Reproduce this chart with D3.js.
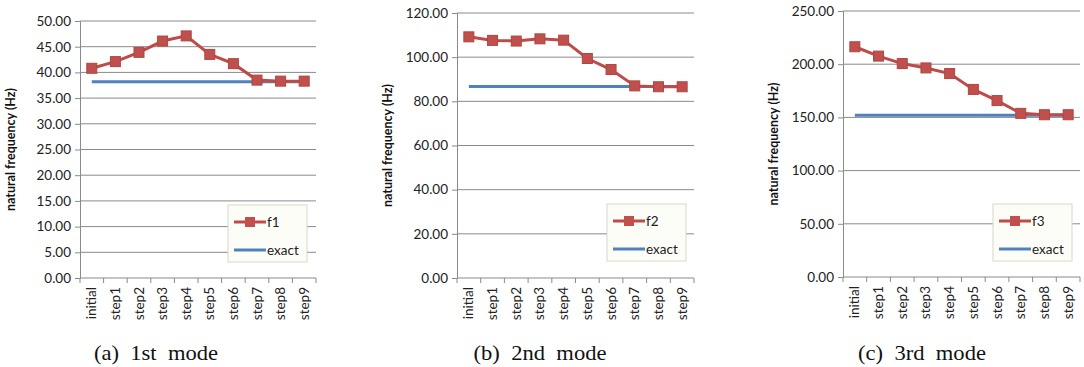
<!DOCTYPE html>
<html lang="en">
<head>
<meta charset="UTF-8">
<title>natural frequency modes</title>
<script src="https://cdn.jsdelivr.net/npm/d3@7"></script>
<style>
body { margin: 0; background: #fff; }
svg text { font-family: Lato, "Open Sans", sans-serif; }
.caption { font-family: "Liberation Serif", "Times New Roman", serif; }
</style>
</head>
<body>
<script>
// data
var categories = ["initial", "step1", "step2", "step3", "step4", "step5", "step6", "step7", "step8", "step9"];

var f1Values = [40.8, 42.1, 43.9, 46.1, 47.1, 43.5, 41.7, 38.5, 38.3, 38.3];
var exact1   = [38.2, 38.2, 38.2, 38.2, 38.2, 38.2, 38.2, 38.2, 38.2, 38.2];
var yTicks1  = [0, 5, 10, 15, 20, 25, 30, 35, 40, 45, 50];

var f2Values = [109.2, 107.6, 107.3, 108.3, 107.7, 99.4, 94.4, 87.0, 86.6, 86.6];
var exact2   = [86.7, 86.7, 86.7, 86.7, 86.7, 86.7, 86.7, 86.7, 86.7, 86.7];
var yTicks2  = [0, 20, 40, 60, 80, 100, 120];

var f3Values = [216.4, 207.6, 200.6, 196.5, 191.2, 176.3, 165.8, 153.8, 152.5, 152.5];
var exact3   = [152.0, 152.0, 152.0, 152.0, 152.0, 152.0, 152.0, 152.0, 152.0, 152.0];
var yTicks3  = [0, 50, 100, 150, 200, 250];

var red = "#C0504D", blue = "#4F81BD";

var svg = d3.select("body").append("svg")
    .attr("width", 1084)
    .attr("height", 367);

var panels = [
    {values: f1Values, exact: exact1, ticks: yTicks1, name: "f1", caption: "(a)  1st  mode",
     left: 80, right: 316, top: 21, bottom: 278, titleX: 11, legend: [228, 205], capX: 156},
    {values: f2Values, exact: exact2, ticks: yTicks2, name: "f2", caption: "(b)  2nd  mode",
     left: 457, right: 694, top: 13, bottom: 278, titleX: 388, legend: [607, 204], capX: 540},
    {values: f3Values, exact: exact3, ticks: yTicks3, name: "f3", caption: "(c)  3rd  mode",
     left: 843, right: 1080, top: 11, bottom: 277, titleX: 774, legend: [993, 204], capX: 922}
];

panels.forEach(drawPanel);

function drawPanel(p)
{
    var g = svg.append("g");

    var x = d3.scaleBand().domain(categories).range([p.left, p.right]);
    var y = d3.scaleLinear().domain([0, d3.max(p.ticks)]).range([p.bottom, p.top]);

    // horizontal gridlines
    g.selectAll("line.grid")
        .data(p.ticks.slice(1)).enter().append("line")
        .attr("x1", p.left).attr("x2", p.right)
        .attr("y1", function(d){ return y(d); })
        .attr("y2", function(d){ return y(d); })
        .attr("stroke", "#8a8a8a")
        .attr("stroke-width", 1);

    // y axis
    var yAxis = g.append("g")
        .attr("transform", "translate(" + p.left + ",0)")
        .call(d3.axisLeft(y).tickValues(p.ticks).tickSize(5).tickFormat(d3.format(".2f")));
    yAxis.select(".domain").attr("stroke", "#8a8a8a");
    yAxis.selectAll(".tick line").attr("stroke", "#8a8a8a");
    yAxis.selectAll("text")
        .attr("font-size", 13.5)
        .attr("fill", "#222")
        .attr("font-family", "Lato, sans-serif")
        .attr("x", -9);

    // x axis, ticks at band edges
    var xAxis = g.append("g")
        .attr("transform", "translate(0," + p.bottom + ")");
    xAxis.append("line")
        .attr("x1", p.left).attr("x2", p.right)
        .attr("stroke", "#8a8a8a");
    xAxis.selectAll("line.tk")
        .data(categories).enter().append("line")
        .attr("x1", function(d){ return x(d) + x.bandwidth(); })
        .attr("x2", function(d){ return x(d) + x.bandwidth(); })
        .attr("y1", 0).attr("y2", 5)
        .attr("stroke", "#8a8a8a");
    xAxis.append("line")
        .attr("x1", p.left).attr("x2", p.left)
        .attr("y1", 0).attr("y2", 5)
        .attr("stroke", "#8a8a8a");
    xAxis.selectAll("text")
        .data(categories).enter().append("text")
        .attr("transform", function(d){
            return "translate(" + (x(d) + x.bandwidth() / 2 + 4.5) + ",9) rotate(-90)";
        })
        .attr("text-anchor", "end")
        .attr("font-size", 13.5)
        .attr("fill", "#222")
        .text(function(d){ return d; });

    // y axis title
    g.append("text")
        .attr("transform", "translate(" + p.titleX + "," + ((p.top + p.bottom) / 2) + ") rotate(-90)")
        .attr("text-anchor", "middle")
        .attr("dy", "0.35em")
        .attr("font-size", 12.5)
        .attr("font-weight", "bold")
        .attr("fill", "#111")
        .text("natural frequency (Hz)");

    var line = d3.line()
        .x(function(d, i){ return x(categories[i]) + x.bandwidth() / 2; })
        .y(function(d){ return y(d); });

    g.append("path")
        .attr("d", line(p.exact))
        .attr("fill", "none")
        .attr("stroke", blue)
        .attr("stroke-width", 3);

    g.append("path")
        .attr("d", line(p.values))
        .attr("fill", "none")
        .attr("stroke", "#BE4B48")
        .attr("stroke-width", 3);

    g.selectAll("rect.mk")
        .data(p.values).enter().append("rect")
        .attr("x", function(d, i){ return x(categories[i]) + x.bandwidth() / 2 - 5; })
        .attr("y", function(d){ return y(d) - 5; })
        .attr("width", 10).attr("height", 10)
        .attr("fill", red)
        .attr("stroke", "#B04541")
        .attr("stroke-width", 1);

    // legend
    var lg = g.append("g").attr("transform", "translate(" + p.legend[0] + "," + p.legend[1] + ")");
    lg.append("rect")
        .attr("width", 79).attr("height", 57)
        .attr("fill", "#fdfdf8")
        .attr("stroke", "#d8d8c8");
    lg.append("line")
        .attr("x1", 6).attr("x2", 38).attr("y1", 17).attr("y2", 17)
        .attr("stroke", "#BE4B48").attr("stroke-width", 3);
    lg.append("rect")
        .attr("x", 17).attr("y", 12).attr("width", 10).attr("height", 10)
        .attr("fill", red);
    lg.append("text")
        .attr("x", 39).attr("y", 17).attr("dy", "0.35em")
        .attr("font-size", 13.5).attr("fill", "#222")
        .text(p.name);
    lg.append("line")
        .attr("x1", 6).attr("x2", 38).attr("y1", 45).attr("y2", 45)
        .attr("stroke", blue).attr("stroke-width", 3);
    lg.append("text")
        .attr("x", 39).attr("y", 45).attr("dy", "0.35em")
        .attr("font-size", 13.5).attr("fill", "#222")
        .text("exact");

    svg.append("text")
        .attr("class", "caption")
        .attr("transform", "translate(" + p.capX + ",360) scale(1.13,1)")
        .attr("text-anchor", "middle")
        .attr("font-size", 20)
        .attr("fill", "#111")
        .style("white-space", "pre")
        .attr("xml:space", "preserve")
        .text(p.caption);
}
</script>
</body>
</html>
